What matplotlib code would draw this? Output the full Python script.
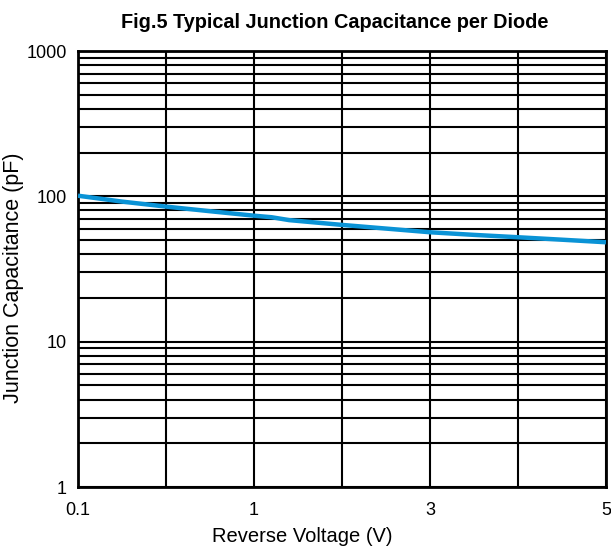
import matplotlib
matplotlib.use("Agg")
import matplotlib.pyplot as plt
from matplotlib.ticker import LogLocator, NullFormatter

plt.rcParams['font.family'] = ['Liberation Sans', 'DejaVu Sans']

# x axis is drawn on an index scale (7 equally spaced grid columns)
x_tick_pos = [0, 1, 2, 3, 4, 5, 6]
x_tick_labels = ['0.1', '', '1', '', '3', '', '5']

# curve samples (x in grid-index units, y = capacitance in pF)
curve_x = [0, 0.5, 1, 1.5, 2, 2.2, 2.4, 3, 3.5, 4, 4.5, 5, 5.5, 6]
curve_y = [101, 92, 85, 79, 73.6, 71.8, 68.6, 63.6, 60, 56.6, 54.3, 52.3, 50.3, 48.3]

y_ticks = [1, 10, 100, 1000]
y_tick_labels = ['1', '10', '100', '1000']

fig = plt.figure(figsize=(6.11, 5.52), dpi=100)
ax = fig.add_axes([78/611, (552-487)/552, (606-78)/611, (487-51)/552])

ax.set_yscale('log')
ax.set_xlim(0, 6)
ax.set_ylim(1, 1000)

ax.plot(curve_x, curve_y, color='#0a93d6', lw=3.2, solid_capstyle='butt', zorder=3)

ax.set_xticks(x_tick_pos)
ax.set_xticklabels(x_tick_labels)
ax.set_yticks(y_ticks)
ax.set_yticklabels(y_tick_labels)
ax.yaxis.set_minor_locator(LogLocator(base=10, subs=range(2, 10)))
ax.yaxis.set_minor_formatter(NullFormatter())

ax.grid(True, which='major', axis='both', color='black', lw=1.5)
ax.grid(True, which='minor', axis='y', color='black', lw=1.5)
ax.tick_params(which='both', length=0)
ax.tick_params(axis='x', pad=11, labelsize=13)
ax.tick_params(axis='y', pad=8, labelsize=13)
for s in ax.spines.values():
    s.set_linewidth(2)
    s.set_color('black')

fig.text(302/611, 1 - 536/552, 'Reverse Voltage (V)', ha='center', va='center', fontsize=14.5)
fig.text(14/611, 1 - 278/552, 'Junction Capacitance (pF)', ha='center', va='center',
         rotation=90, fontsize=15.5)
fig.text(335/611, 1 - 22/552, 'Fig.5 Typical Junction Capacitance per Diode',
         ha='center', va='center', fontsize=14.3, fontweight='bold')

fig.savefig('out.png', dpi=100)
